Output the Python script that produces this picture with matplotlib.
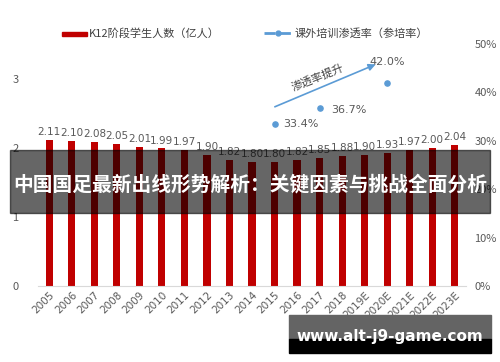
import matplotlib.pyplot as plt
import numpy as np
from matplotlib.patches import Rectangle

plt.rcParams['font.family'] = ['Noto Sans CJK SC', 'DejaVu Sans']

years = ["2005", "2006", "2007", "2008", "2009", "2010", "2011", "2012", "2013", "2014",
         "2015", "2016", "2017", "2018", "2019E", "2020E", "2021E", "2022E", "2023E"]
students = [2.11, 2.10, 2.08, 2.05, 2.01, 1.99, 1.97, 1.90, 1.82, 1.80,
            1.80, 1.82, 1.85, 1.88, 1.90, 1.93, 1.97, 2.00, 2.04]
rate_years = ["2015", "2017", "2020E"]
rate = [33.4, 36.7, 42.0]

red = "#C00000"
blue = "#5B9BD5"
gray = "#595959"

fig = plt.figure(figsize=(5, 3.62), dpi=100)
ax = fig.add_axes([0.076, 0.21, 0.856, 0.6685])
ax2 = ax.twinx()

x = np.arange(len(years))
ax.bar(x, students, width=0.32, color=red, zorder=2)
for xi, v in zip(x, students):
    ax.text(xi, v + 0.04, f"{v:.2f}", ha="center", va="bottom", fontsize=7.5,
            color=gray, family="DejaVu Sans")

ax.set_xlim(-0.5, len(years) - 0.5)
ax.set_ylim(0, 3.5)
ax.set_yticks([0, 1, 2, 3])
ax.set_xticks(x)
ax.set_xticklabels(years, rotation=45, ha="right", rotation_mode="anchor",
                   fontsize=7.5, color=gray, family="DejaVu Sans")
ax.tick_params(axis="y", length=0, labelsize=8, labelcolor=gray, pad=14)
ax.tick_params(axis="x", length=0, pad=3)
for s in ["top", "right", "left"]:
    ax.spines[s].set_visible(False)
ax.spines["bottom"].set_color("#D9D9D9")

rx = [years.index(y) for y in rate_years]
ax2.scatter(rx, rate, s=14, color=blue, zorder=3)
ax2.set_ylim(0, 50)
ax2.set_yticks([0, 10, 20, 30, 40, 50])
ax2.set_yticklabels([f"{t}%" for t in range(0, 60, 10)])
ax2.tick_params(axis="y", length=0, labelsize=8, labelcolor=gray, pad=6)
for s in ["top", "right", "left", "bottom"]:
    ax2.spines[s].set_visible(False)

ax2.text(rx[0] + 0.4, rate[0], f"{rate[0]:.1f}%", va="center", ha="left",
         fontsize=8, color=gray, family="DejaVu Sans")
ax2.text(rx[1] + 0.5, rate[1] - 0.3, f"{rate[1]:.1f}%", va="center", ha="left",
         fontsize=8, color=gray, family="DejaVu Sans")
ax2.text(rx[2], rate[2] + 4.2, f"{rate[2]:.1f}%", va="center", ha="center",
         fontsize=8, color=gray, family="DejaVu Sans")

ax2.annotate("", xy=(14.6, 46.0), xytext=(9.9, 36.8),
             arrowprops=dict(arrowstyle="-|>", color=blue, lw=1.2,
                             mutation_scale=10))
ax2.text(11.9, 43.1, "渗透率提升", rotation=22, ha="center", va="center",
         fontsize=8, color="#404040")

# legend
fig.patches.append(Rectangle((62 / 500, 1 - 35.5 / 362), 25 / 500, 4 / 362,
                             transform=fig.transFigure, color=red))
fig.text(89 / 500, 1 - 33 / 362, "K12阶段学生人数（亿人）", fontsize=8,
         color="#404040", va="center")
fig.add_artist(plt.Line2D([264 / 500, 292 / 500], [1 - 33 / 362, 1 - 33 / 362],
                          color=blue, lw=2, dashes=(4, 1.5),
                          transform=fig.transFigure))
fig.add_artist(plt.Line2D([278 / 500], [1 - 33 / 362], marker="o", ms=3.5,
                          color=blue, transform=fig.transFigure))
fig.text(295 / 500, 1 - 33 / 362, "课外培训渗透率（参培率）", fontsize=8,
         color="#404040", va="center")

# overlay banners
fig.patches.append(Rectangle((10 / 500, 1 - 213 / 362), 480 / 500, 63 / 362,
                             transform=fig.transFigure, color="black",
                             alpha=0.6, zorder=10))
fig.text(250 / 500, 1 - 185 / 362, "中国国足最新出线形势解析：关键因素与挑战全面分析",
         fontsize=14.2, fontweight="bold", color="white", ha="center",
         va="center", zorder=11)
fig.patches.append(Rectangle((289 / 500, 1 - 339 / 362), 202 / 500, 24 / 362,
                             transform=fig.transFigure, color="#646464",
                             zorder=10))
fig.patches.append(Rectangle((289 / 500, 1 - 353 / 362), 202 / 500, 14 / 362,
                             transform=fig.transFigure, color="black",
                             zorder=10))
fig.text(390 / 500, 1 - 336 / 362, "www.alt-j9-game.com", fontsize=11,
         fontweight="bold", color="white", ha="center", va="center",
         family="DejaVu Sans", zorder=11)

fig.savefig("out.png", dpi=100)
